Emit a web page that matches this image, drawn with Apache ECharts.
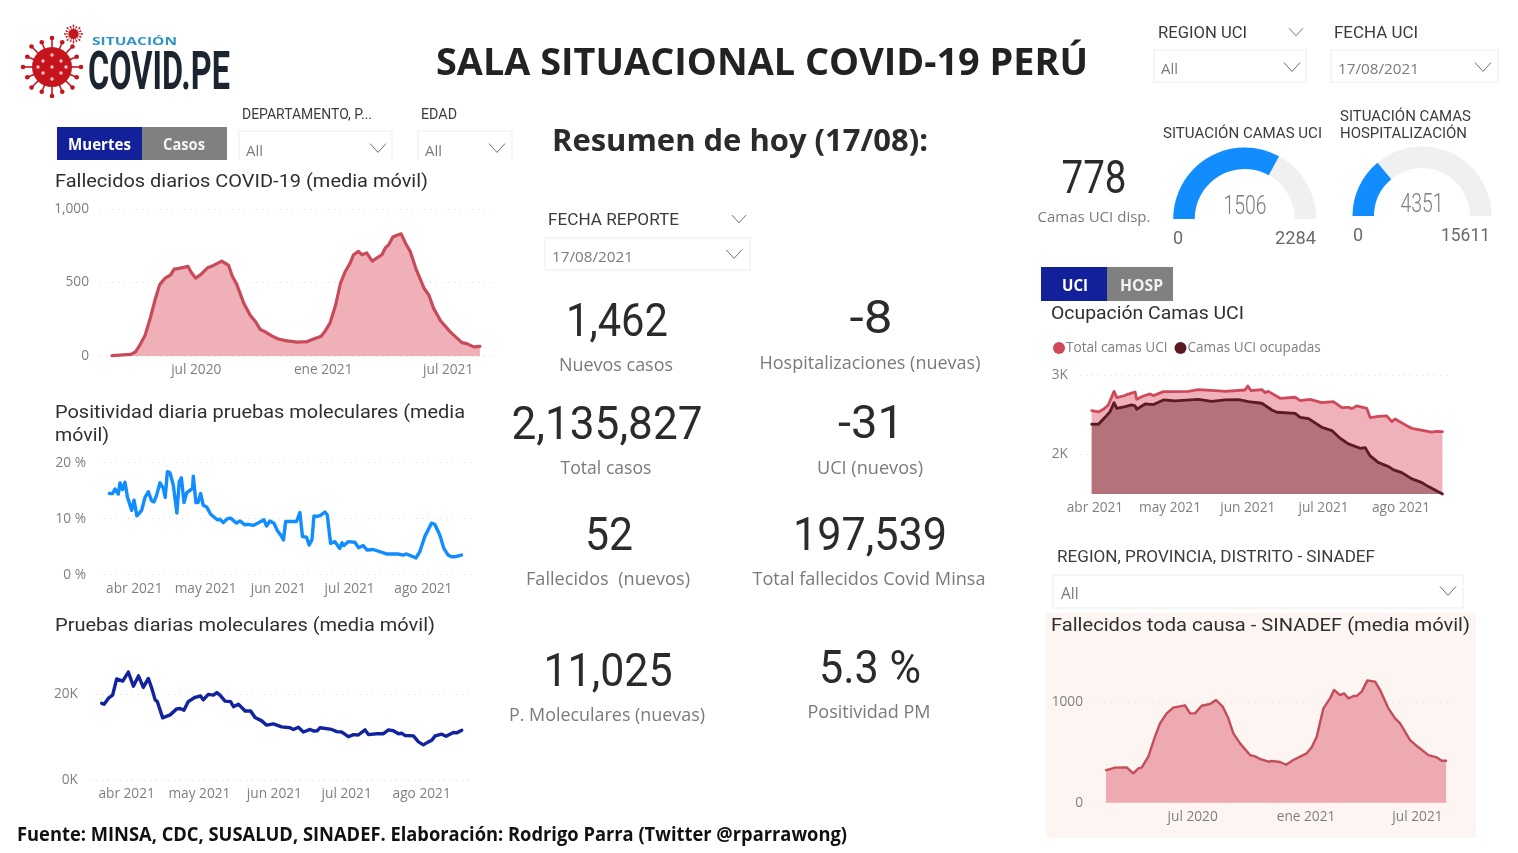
<!DOCTYPE html>
<html><head><meta charset="utf-8"><title>Sala situacional COVID-19 Perú</title>
<style>html,body{margin:0;padding:0;background:#fff}#c{width:1518px;height:853px}</style>
<script src="https://cdn.jsdelivr.net/npm/echarts@6/dist/echarts.min.js"></script>
</head><body><div id="c"></div>
<script>
// ---- DATA (x = days since the first date of each series) ----
// Fallecidos diarios COVID-19, days since 1 Mar 2020
const deathDays=[0,27,34,41,48,56,63,69,77,85,90,97,104,110,114,121,128,138,147,159,169,174,181,191,200,208,215,222,232,242,254,268,283,292,303,309,316,324,331,338,345,350,357,362,369,377,384,391,396,401,407,412,419,425,432,440,452,459,466,476,490,507,514,524,533];
const deathVals=[2,11,27,80,142,267,393,484,530,552,591,596,603,610,575,530,552,598,616,646,616,546,484,358,279,233,180,164,135,114,103,94,98,116,135,171,226,347,495,575,632,689,712,689,701,646,667,689,735,758,810,820,831,769,712,598,461,415,324,240,164,91,84,62,66];
const deathTicks=[122,306,487];
const deathTickLabels=['jul 2020','ene 2021','jul 2021'];
// Positividad diaria, days since 21 Mar 2021
const posDays=[0,1.4,2.4,3.8,4.5,5.5,6.6,7.6,9.4,10.4,11.6,13.6,15,16.4,17.8,18.8,19.9,20.7,21.3,22.7,23.5,24.4,25.5,26.9,27.6,28.4,29.4,30.3,31.4,32.5,35,35.3,36.4,37.3,38.4,39.5,40.9,42.6,45.4,46.5,47.9,49.6,51,53.5,54.9,57,58.4,60.5,63.3,65,66.1,67.5,69.2,70.6,72,73.2,74.1,78.7,80.1,81.2,82.9,84,85.2,86,87.4,88.8,90.6,91.6,93,94.8,96.9,97.8,98.6,100.4,103.2,103.9,104.8,106.7,108.4,110.9,116.5,121.4,123.5,124.9,128.9,130.5,132.6,135.4,136.8,138.9,140.6,142.4,143.8,145.2,145.9,148];
const posVals=[14.5,14.5,15.3,14.4,16.4,15.2,16.5,13.9,11.5,13.3,10.5,11.5,13.8,14.8,13.2,13,14.2,14.2,16.4,15.4,13.8,18.4,18.2,16,15.7,11,16.6,17.3,12.9,14.6,15.4,17.6,12.9,12.9,14.5,12.4,12.1,10.8,9.8,9.9,9.3,10,10.1,9.2,9.6,8.9,9,8.8,9.4,9.8,8.7,9.6,9.2,7.9,7.1,6.2,9.5,9.5,11.1,6.8,6.7,5.3,6.3,10.5,10.4,10.6,11.2,10.7,5.6,5.9,4.7,5.7,5.2,5.9,5.8,6.1,4.8,5.2,4.4,4.5,3.7,3.7,3.5,3.7,3,4.1,6.8,9.2,9,7.1,4.7,3.5,3.2,3.2,3,3.5];
const posTicks=[10.5,40.5,71,101,132];
const monthLabels=['abr 2021','may 2021','jun 2021','jul 2021','ago 2021'];
// Pruebas diarias moleculares (miles), days since 21 Mar 2021
const testDays=[0,1,2.8,4.5,6.2,8.7,11,13.1,15.2,17.2,19.3,20.7,22.1,23,25.2,28.3,31,32.4,34,35.8,38.6,40.9,42,44.1,46.2,47.6,48.9,51,53.3,54.5,56.5,59.3,61.6,63.4,66.2,68.2,71,74.4,77.9,79.3,81.3,83.4,86.2,87.8,89.2,90.3,95.1,97.2,99.3,102,104.1,106.1,108.9,110.3,113.7,116.5,118.6,120.6,122.7,124.1,125.4,128.9,131,133,135.1,136.5,137.9,140.6,142.4,145.4,146.8,148.9];
const testVals=[17.9,17.7,19.1,19.8,23.6,23.1,25.2,21.9,24.3,21.6,23.7,21.4,18.7,18.3,14.5,15.2,16.6,16.7,16.3,18.3,19.3,19.6,18.7,20,19.8,20.4,19.8,18.4,18.3,17.1,17.7,16.1,16.1,14.6,13.8,12.8,13.1,12.4,12.2,11.8,12.3,11.2,11.8,11.4,11.5,12.2,11.8,11.3,11.2,10.1,10.6,10.5,11.7,10.6,10.8,10.8,11.7,11.5,10.8,10.9,10.4,10.3,8.9,8.2,8.9,9.3,10.3,10.7,10.2,11.1,11,11.6];
const testTicks=[10.3,40.4,71.4,101.3,132.3];
// Camas UCI, days since 30 Mar 2021
const bedDays=[0,2.7,4.7,6.6,8.9,10,12.6,14.9,17.3,17.9,20.6,23.3,24.6,28.6,33.2,38.5,42.5,49.2,53.2,61.1,62.2,63.5,67.8,69.1,70.4,75.1,81.1,83.1,87,91.7,96.3,99.7,102.3,103.7,105.6,109.6,111,114.3,117.6,119.6,120.9,126.2,127.6,135.5,137.5,139.8];
const bedTotal=[2553,2536,2570,2624,2797,2717,2738,2764,2789,2696,2738,2764,2743,2793,2793,2797,2819,2806,2797,2814,2865,2806,2819,2781,2797,2709,2722,2679,2696,2654,2667,2591,2595,2578,2612,2582,2464,2481,2485,2414,2447,2350,2329,2279,2291,2287];
const occDays=[0,2.7,5.3,7.3,8.9,10,13.3,15.9,17.3,17.9,21.3,24.6,28.6,33.2,42.5,47.8,53.2,58.5,62.5,67.8,71.8,73.8,81.1,83.1,86.4,91.7,95.7,99,102.3,107,109,111,114.3,118.3,120.3,123.6,127.6,131.6,134.2,139.8];
const bedOccupied=[2380,2380,2468,2540,2654,2582,2603,2625,2612,2570,2637,2629,2688,2675,2696,2671,2688,2692,2667,2646,2561,2532,2519,2468,2452,2342,2300,2203,2131,2076,2084,1979,1895,1844,1802,1768,1688,1641,1591,1498];
const bedTicks=[1.3,31.2,62.2,92.4,123.3];
// Fallecidos toda causa SINADEF, days since 11 Feb 2020
const sinDays=[0,6.5,14.6,33.6,44.4,52.5,57.9,68.8,79.6,87.8,98.6,109.4,128.4,136.5,144.6,155.5,169,178.8,189.6,198.8,206.9,217.8,234,242.1,250.3,263.8,269.2,282.8,292.5,304.4,315.3,326.1,334.2,342.4,353.2,364,370.5,380.3,386.8,393.8,402,407.4,415.5,424.7,437.2,445.3,458.8,469.7,477.8,494,507.6,523.8,537.4,545.5,552.5];
const sinVals=[324,334,348,351,291,341,348,457,656,788,887,944,967,887,887,963,980,1020,954,838,689,589,473,460,434,407,414,404,377,424,457,490,550,656,937,1036,1119,1069,1086,1036,1060,1060,1103,1215,1202,1119,937,838,788,622,550,473,450,417,417];
const sinTicks=[140.8,325,506];
// Gauges
const uciValue=1506, uciMax=2284, hospValue=4351, hospMax=15611;
// KPI values and captions
const kpiValues=['1,462','-8','2,135,827','-31','52','197,539','11,025','5.3 %','778'];
const kpiCaptions=['Nuevos casos','Hospitalizaciones (nuevas)','Total casos','UCI (nuevos)','Fallecidos  (nuevos)','Total fallecidos Covid Minsa','P. Moleculares (nuevas)','Positividad PM','Camas UCI disp.'];

// ---- LAYOUT ----
const DIN='Roboto', UI='"Open Sans"';
const mc=document.createElement('canvas').getContext('2d');
const G=[];
function T(s,x,y,size,o={}){
  const fam=o.fam||DIN, wt=o.wt||'normal';
  let sx=1;
  if(o.w){mc.font=wt+' '+size+'px '+fam;sx=o.w/mc.measureText(s).width;}
  G.push({type:'text',x,y:y+4,scaleX:sx,silent:true,z:20,style:{text:s,fontSize:size,fontFamily:fam,fontWeight:wt,fill:o.c||'#2f2f2f',align:o.a||'left',verticalAlign:'middle'}});
}
function chev(x,y,hw=8,c='#6f6f6f'){G.push({type:'polyline',silent:true,z:20,shape:{points:[[x-hw,y-hw*0.55],[x,y+hw*0.55],[x+hw,y-hw*0.55]]},style:{stroke:c,lineWidth:1,fill:null}});}
function box(x0,y0,x1,y1,open){
  if(open) G.push({type:'polyline',silent:true,z:19,shape:{points:[[x0,y1],[x0,y0],[x1,y0],[x1,y1]]},style:{stroke:'#ececec',lineWidth:1,fill:null}});
  else G.push({type:'rect',silent:true,z:19,shape:{x:x0,y:y0,width:x1-x0,height:y1-y0},style:{stroke:'#ececec',lineWidth:1,fill:'#fff'}});
}
function rect(x,y,w,h,c,z=1){G.push({type:'rect',silent:true,z,shape:{x,y,width:w,height:h},style:{fill:c}});}
function virus(cx,cy,r,c,spoke,knob,sw){
  for(let i=0;i<16;i++){const a=i*Math.PI/8,ca=Math.cos(a),sa=Math.sin(a),L=r+spoke*(i%2?0.75:1);
    G.push({type:'line',silent:true,z:5,shape:{x1:cx,y1:cy,x2:cx+ca*L,y2:cy+sa*L},style:{stroke:c,lineWidth:sw}});
    G.push({type:'circle',silent:true,z:5,shape:{cx:cx+ca*L,cy:cy+sa*L,r:knob},style:{fill:c}});
  }
  G.push({type:'circle',silent:true,z:5,shape:{cx,cy,r},style:{fill:c}});
}
// logo
virus(52,67,20,'#c5141c',9,2.3,1.6);
[[0,0],[-9,-6],[9,-6],[-9,6],[9,6],[0,-12],[0,12],[-14,0],[14,0]].forEach(p=>G.push({type:'circle',silent:true,z:6,shape:{cx:52+p[0],cy:67+p[1],r:1.7},style:{fill:'#f3c9c9'}}));
virus(73.5,34,5,'#c5141c',3.5,0.9,0.8);
T('SITUACIÓN',92,38,10.5,{w:85,wt:'bold',c:'#2f95c4',fam:'"Open Sans"'});
T('COVID.PE',88,71,54,{w:142,wt:'bold',c:'#1c2430',fam:'Roboto'});
// headers
T('SALA SITUACIONAL COVID-19 PERÚ',436,60,38,{w:652,wt:'bold',fam:'"Open Sans"',c:'#222'});
T('Resumen de hoy (17/08):',552,138,31,{w:376,wt:'bold',fam:'"Open Sans"',c:'#2b2b2b'});
T('Fuente: MINSA, CDC, SUSALUD, SINADEF. Elaboración: Rodrigo Parra (Twitter @rparrawong)',17,832,19,{w:830,wt:'bold',fam:'"Open Sans"',c:'#111'});
// buttons
rect(57,127,85,33,'#12209a');rect(142,127,85,33,'#808080');
T('Muertes',68,142,15.5,{w:63,wt:'bold',fam:'"Open Sans"',c:'#fff'});
T('Casos',163,142,15.5,{w:42,wt:'bold',fam:'"Open Sans"',c:'#f2f2f2'});
rect(1041,267,66,34,'#12209a');rect(1107,267,66,34,'#808080');
T('UCI',1062,283,15.5,{w:26,wt:'bold',fam:'"Open Sans"',c:'#fff'});
T('HOSP',1120,283,15.5,{w:43,wt:'bold',fam:'"Open Sans"',c:'#f2f2f2'});
// slicers
T('DEPARTAMENTO, P...',242,111,14.5,{w:130,c:'#3c3c3c'});
box(239,131,392,160,true);T('All',246,148,15,{c:'#7b7b7b',fam:UI});chev(378,148);
T('EDAD',421,111,14.5,{w:36,c:'#3c3c3c'});
box(418,131,512,160,true);T('All',425,148,15,{c:'#7b7b7b',fam:UI});chev(497,148);
T('FECHA REPORTE',548,217,16.5,{w:131,c:'#3c3c3c'});chev(739,219,7);
box(545,238,750,270);T('17/08/2021',552,254,15,{w:81,c:'#7b7b7b',fam:UI});chev(734,254);
T('REGION UCI',1158,30,16.5,{w:89,c:'#3c3c3c'});chev(1296,32,7);
box(1154,50,1306,82);T('All',1161,66,15,{c:'#7b7b7b',fam:UI});chev(1292,67);
T('FECHA UCI',1334,30,16.5,{w:84,c:'#3c3c3c'});
box(1331,50,1498,82);T('17/08/2021',1338,66,15,{w:81,c:'#7b7b7b',fam:UI});chev(1483,67);
T('REGION, PROVINCIA, DISTRITO - SINADEF',1057,554,16.5,{w:318,c:'#3c3c3c'});
box(1053,575,1463,608);T('All',1061,591,15.5,{c:'#7b7b7b',fam:UI});chev(1448,591);
// chart titles
T('Fallecidos diarios COVID-19 (media móvil)',55,178,19,{w:373});
T('Positividad diaria pruebas moleculares (media',55,409,19,{w:410});
T('móvil)',55,432,19,{w:54});
T('Pruebas diarias moleculares (media móvil)',55,622,19,{w:380});
T('Ocupación Camas UCI',1051,310,19,{w:193});
rect(1046,613,430,225,'#fdf5f2',0);
T('Fallecidos toda causa - SINADEF (media móvil)',1051,622,19,{w:419});
// KPIs
const kpiPos=[[617,320,102,362,114],[871,317,43,360,221],[607,423,191,465,91],[871,422,66,465,106],[609,534,48,576,164],[870,534,154,576,233],[608,670,129,712,196],[870,667,102,709,123],[1094,177,65,214,113]];
kpiValues.forEach((v,i)=>{const p=kpiPos[i];
  T(v,p[0],p[1],46,{w:p[2],a:'center',c:'#2b2b2b'});
  T(kpiCaptions[i],p[0]+(i==8?0:-1),p[3],i==8?15:18,{w:p[4],a:'center',c:'#7a7a7a',fam:UI});
});
// gauge labels
T('SITUACIÓN CAMAS UCI',1163,130,15.5,{w:159,c:'#3c3c3c'});
T('SITUACIÓN CAMAS',1340,113,15.5,{w:131,c:'#3c3c3c'});
T('HOSPITALIZACIÓN',1340,130,15.5,{w:127,c:'#3c3c3c'});
T(String(uciValue),1245,204,25,{w:43,a:'center',c:'#7d7d7d',wt:'300'});
T(String(hospValue),1422,202,25,{w:43,a:'center',c:'#7d7d7d',wt:'300'});
T('0',1178,235,18,{a:'center',c:'#6a6a6a'});
T(String(uciMax),1316,235,18,{w:41,a:'right',c:'#6a6a6a'});
T('0',1358,232,18,{a:'center',c:'#6a6a6a'});
T(String(hospMax),1490,232,18,{w:49,a:'right',c:'#6a6a6a'});

// ---- CHART ----
const gridCol='#dcdcdc', lab='#7f7f7f';
const grids=[
 {left:100,width:393,top:209,height:147},
 {left:98,width:377,top:462.7,height:112},
 {left:90,width:381.7,top:668.6,height:111.4},
 {left:1080,width:368,top:375.3,height:118.7},
 {left:1093,width:362,top:671.8,height:130.9}
];
function xA(i,min,max,ticks,labels){return {type:'value',gridIndex:i,min,max,
  axisLine:{show:false},axisTick:{show:false,customValues:ticks},splitLine:{show:false},
  axisLabel:{customValues:ticks,color:lab,fontFamily:UI,fontSize:13.7,margin:7.5,hideOverlap:false,
    showMinLabel:true,showMaxLabel:true,formatter:v=>{const k=ticks.indexOf(v);return k<0?'':labels[k];}}};}
function yA(i,min,max,ticks,fmt,margin){return {type:'value',gridIndex:i,min,max,
  axisLine:{show:false},axisTick:{show:false,customValues:ticks},
  splitLine:{show:true,lineStyle:{color:gridCol,type:[1,5],width:1}},
  axisLabel:{customValues:ticks,color:lab,fontFamily:UI,fontSize:13.7,margin,padding:[3,0,0,0],formatter:fmt}};}
const zip=(a,b)=>a.map((d,i)=>[d,b[i]]);
function ln(name,i,days,vals,c,w,area,z){return {type:'line',name,xAxisIndex:i,yAxisIndex:i,data:zip(days,vals),symbol:'none',showSymbol:false,smooth:false,animation:false,z:z||2,clip:false,
  lineStyle:{color:c,width:w,join:'round',cap:'round'},itemStyle:{color:c},areaStyle:area?{color:area,opacity:1}:undefined};}
function gauge(cx,cy,r,val,max){return {type:'gauge',center:[cx,cy],radius:r,startAngle:180,endAngle:0,min:0,max,animation:false,silent:true,
  pointer:{show:false},axisTick:{show:false},splitLine:{show:false},axisLabel:{show:false},title:{show:false},detail:{show:false},
  axisLine:{roundCap:false,lineStyle:{width:21.5,color:[[1,'#f0f0f0']]}},
  progress:{show:true,roundCap:false,width:21.5,itemStyle:{color:'#118DFF'}},data:[{value:val}]};}
const chart=echarts.init(document.getElementById('c'),null,{width:1518,height:853,renderer:'canvas'});
chart.setOption({
  backgroundColor:'#fff',animation:false,
  textStyle:{fontFamily:UI},
  graphic:{elements:G},
  grid:grids,
  legend:{left:1048,top:336,icon:'circle',itemWidth:12,itemHeight:12,itemGap:7,selectedMode:false,
    textStyle:{color:'#7f7f7f',fontSize:13.6,fontFamily:UI,padding:[0,0,0,-4]},data:['Total camas UCI','Camas UCI ocupadas']},
  xAxis:[
    xA(0,-17.4,552,deathTicks,deathTickLabels),
    xA(1,-4.75,153.7,posTicks,monthLabels),
    xA(2,-4.84,153,testTicks,monthLabels),
    xA(3,-4.67,142,bedTicks,monthLabels),
    xA(4,-21.1,567,sinTicks,deathTickLabels)
  ],
  yAxis:[
    yA(0,0,1000,[0,500,1000],v=>v===1000?'1,000':String(v),11),
    yA(1,0,20,[0,10,20],v=>v+' %',12),
    yA(2,0,26,[0,20],v=>v+'K',12),
    yA(3,1497,3000,[2000,3000],v=>(v/1000)+'K',12),
    yA(4,0,1300,[0,1000],v=>String(v),10)
  ],
  series:[
    ln('Fallecidos diarios',0,deathDays,deathVals,'#c94a59',3.2,'#efb0b8'),
    ln('Positividad',1,posDays,posVals,'#118DFF',3.4),
    ln('Pruebas',2,testDays,testVals,'#12239E',3.4),
    ln('Total camas UCI',3,bedDays,bedTotal,'#d0495a',2.8,'#efb1ba',2),
    ln('Camas UCI ocupadas',3,occDays,bedOccupied,'#5c1a22',2.8,'#b4737b',3),
    ln('Fallecidos toda causa',4,sinDays,sinVals,'#c44d5a',2.4,'#eeaab1'),
    gauge(1244.7,219,71.5,uciValue,uciMax),
    gauge(1422,216,69.5,hospValue,hospMax)
  ]
});
</script></body></html>
